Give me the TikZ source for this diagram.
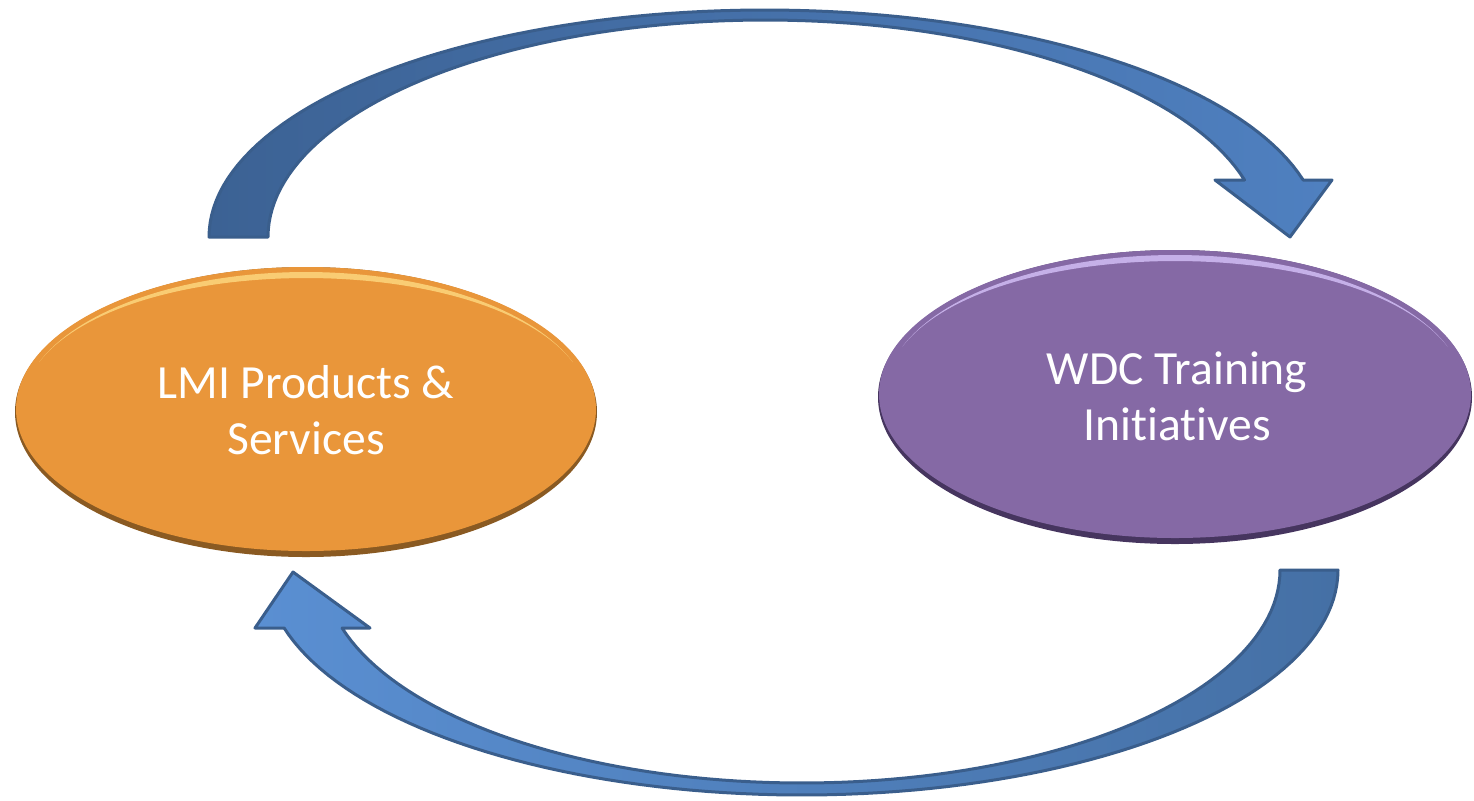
\documentclass[tikz,border=0pt]{standalone}
\usepackage{fontspec}
\setmainfont[Ligatures={NoCommon}]{Carlito}
\usetikzlibrary{shapes.geometric}
\definecolor{ora}{HTML}{E9963A}
\definecolor{oralight}{HTML}{FBD27A}
\definecolor{oradark}{HTML}{8A5A22}
\definecolor{pur}{HTML}{8569A5}
\definecolor{purlight}{HTML}{CDB8F0}
\definecolor{purdark}{HTML}{46355F}
\definecolor{arrline}{HTML}{3A5E8C}
\definecolor{bluedark}{HTML}{3C6294}
\definecolor{bluelight}{HTML}{5A8FD2}
\definecolor{bluemid}{HTML}{4F80C0}
\definecolor{bluedeep}{HTML}{4570A5}
\tikzset{
  label ellipse/.style={ellipse, minimum width=#1, inner sep=0pt, text=white,
     font=\fontsize{23.8}{28}\selectfont, align=center},
  curved arrow/.style={draw=arrline, line width=1.5pt, line join=round},
}
\begin{document}
\begin{tikzpicture}[x=0.5pt,y=-0.5pt]
\useasboundingbox (0,0) rectangle (1474,800);

% ---- top curved arrow (LMI -> WDC)
\path[curved arrow, left color=bluedark, right color=bluemid]
  plot[domain=180:14.54, samples=90] ({765+556*cos(\x)},{237-227*sin(\x)})
  -- (1332,180) -- (1290,237) -- (1215,180) -- (1244,180)
  -- plot[domain=15.23:180, samples=90] ({765+497*cos(\x)},{237-217*sin(\x)})
  -- cycle;

% ---- bottom curved arrow (WDC -> LMI)
\path[curved arrow, left color=bluelight, right color=bluedeep]
  plot[domain=0:165.06, samples=90] ({802+536*cos(\x)},{570+225*sin(\x)})
  -- (255,628) -- (293,572) -- (370,628) -- (342,628)
  -- plot[domain=164.2:0, samples=90] ({802+478*cos(\x)},{570+213*sin(\x)})
  -- cycle;

% ---- orange ellipse
\fill[oradark] (306,412) ellipse [x radius=145.5pt, y radius=72.5pt];
\fill[ora] (306,409) ellipse [x radius=145pt, y radius=71pt];
\fill[oralight, fill opacity=0.9]
  plot[domain=20:160, samples=70] ({306+284*cos(\x)},{409-137*sin(\x)})
  -- plot[domain=160:20, samples=70]
     ({306+284*cos(\x)},{409-(137-6*sin((\x-20)*1.2857))*sin(\x)})
  -- cycle;
\node[label ellipse=291pt, minimum height=145pt] (lmi) at (306,410)
  {LMI Products \&\\Services};

% ---- purple ellipse
\fill[purdark] (1175,397) ellipse [x radius=148.5pt, y radius=73.5pt];
\fill[pur] (1175,394) ellipse [x radius=148pt, y radius=72pt];
\fill[purlight, fill opacity=0.9]
  plot[domain=20:160, samples=70] ({1175+290*cos(\x)},{394-139*sin(\x)})
  -- plot[domain=160:20, samples=70]
     ({1175+290*cos(\x)},{394-(139-6*sin((\x-20)*1.2857))*sin(\x)})
  -- cycle;
\node[label ellipse=297pt, minimum height=147pt] (wdc) at (1177,396)
  {WDC Training\\Initiatives};
\end{tikzpicture}
\end{document}
